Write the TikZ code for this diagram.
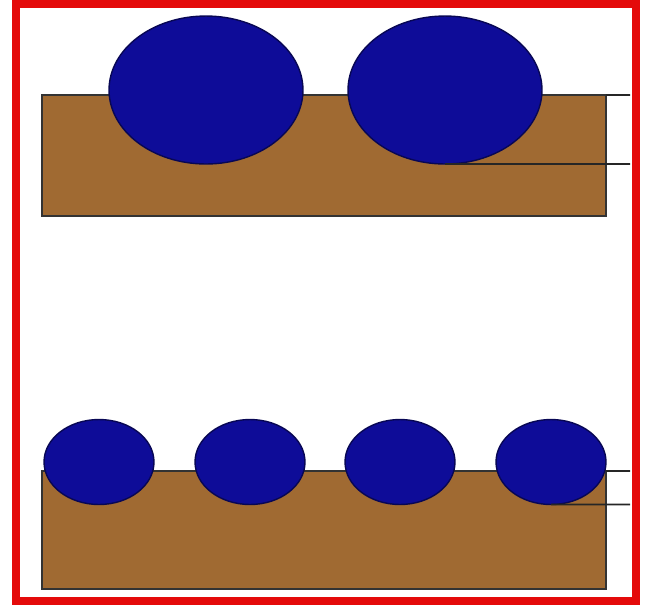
\documentclass[tikz,border=0pt]{standalone}
\usetikzlibrary{positioning,shapes.geometric}
\definecolor{soil}{RGB}{160,106,50}
\definecolor{drop}{RGB}{14,12,152}
\definecolor{frame}{RGB}{228,10,10}

\tikzset{
	substrate/.style={draw=black!80, fill=soil, line width=1pt,
		inner sep=0pt, outer sep=0pt,
		minimum width=11.28cm, minimum height=2.42cm},
	bigdrop/.style={ellipse, draw=drop!55!black, fill=drop, line width=0.8pt,
		inner sep=0pt, outer sep=0pt, minimum width=3.88cm, minimum height=2.96cm},
	smalldrop/.style={ellipse, draw=drop!55!black, fill=drop, line width=0.8pt,
		inner sep=0pt, outer sep=0pt, minimum width=2.2cm, minimum height=1.7cm},
	level/.style={draw=black!85, line width=1pt}
}

\begin{document}
\begin{tikzpicture}[x=0.02cm,y=-0.02cm]
	
	\useasboundingbox (0,0) rectangle (645,610);
	\draw[frame, line width=0.16cm] (16,4) rectangle (636,601);
	
	% upper substrate with two large drops
	\node[substrate] (S1) at (324,155.5) {};
	\node[bigdrop] (D1) at (206,90) {};
	\node[bigdrop] (D2) at (445,90) {};
	\coordinate (T1) at (630,95);
	\coordinate (T2) at (630,164);
	\draw[level] (S1.north east) -- (T1);
	\draw[level] (D2.south) -- (T2);
	
	% lower substrate with four small drops
	\node[substrate, minimum height=2.36cm] (S2) at (324,530) {};
	\node[smalldrop] (d1) at (99,462) {};
	\node[smalldrop] (d2) at (250,462) {};
	\node[smalldrop] (d3) at (400,462) {};
	\node[smalldrop] (d4) at (551,462) {};
	\coordinate (B1) at (630,471);
	\coordinate (B2) at (630,504.5);
	\draw[level] (S2.north east) -- (B1);
	\draw[level] (d4.south) -- (B2);
	
\end{tikzpicture}
\end{document}
